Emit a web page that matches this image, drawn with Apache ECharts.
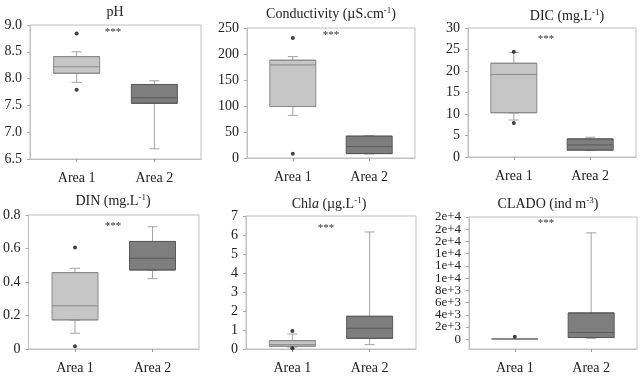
<!DOCTYPE html>
<html><head><meta charset="utf-8">
<script src="https://cdn.jsdelivr.net/npm/echarts@6/dist/echarts.min.js"></script>
<style>html,body{margin:0;padding:0;background:#fff}#c{width:640px;height:390px}</style>
</head><body><div id="c"></div><script>
// ---- data ----
const categories = ['Area 1', 'Area 2'];
// box: [min whisker, Q1, median, Q3, max whisker] for Area 1, Area 2
const phBox = [[7.93, 8.10, 8.22, 8.41, 8.50], [6.69, 7.54, 7.64, 7.89, 7.96]];
const phOut = [[1, 8.84], [1, 7.79]];
const condBox = [[82, 99, 179, 188, 195], [8, 8.5, 22, 42, 43]];
const condOut = [[1, 231], [1, 8.3]];
const dicBox = [[8.6, 10.3, 19.2, 21.8, 24.3], [1.5, 1.6, 2.8, 4.2, 4.6]];
const dicOut = [[1, 24.5], [1, 7.9]];
const dinBox = [[0.094, 0.174, 0.258, 0.456, 0.482], [0.42, 0.472, 0.542, 0.642, 0.73]];
const dinOut = [[1, 0.606], [1, 0.016]];
const chlBox = [[0.1, 0.14, 0.23, 0.44, 0.79], [0.23, 0.56, 1.09, 1.72, 6.16]];
const chlOut = [[1, 0.95], [1, 0.04]];
const cladoBox = [[0, 10, 50, 90, 100], [150, 275, 1100, 4300, 17400]];
const cladoOut = [[1, 385]];
// tick values (listed out of order so neighbouring end labels are not treated as overlapping)
const cladoTicks = [0, 10000, 2000, 4000, 6000, 8000, 12000, 16000, 18000, 20000, 14000];

// ---- layout / style ----
const serif = "'Liberation Serif', 'Times New Roman', serif";
const grids = [
  {left: 30, top: 25, width: 171, height: 134},
  {left: 247, top: 28, width: 168, height: 130},
  {left: 468, top: 28, width: 168, height: 129},
  {left: 27, top: 215, width: 172, height: 134},
  {left: 246, top: 216, width: 170, height: 133},
  {left: 469, top: 217, width: 168, height: 132}
];
const titleText = [
  'pH',
  'Conductivity (µS.cm{sup|-1})',
  'DIC (mg.L{sup|-1})',
  'DIN (mg.L{sup|-1})',
  'Chl{it|a} (µg.L{sup|-1})',
  'CLADO (ind m{sup|-3})'
];
const titlePos = [[115, 4], [331, 6], [567, 8], [113, 193], [329, 196], [548, 196]];
const starPos = [[113, 32], [331, 35], [546, 39], [113, 226], [326, 228], [546, 223]];
const boxes = [phBox, condBox, dicBox, dinBox, chlBox, cladoBox];
const outs = [phOut, condOut, dicOut, dinOut, chlOut, cladoOut];
const yCfg = [
  {min: 6.5, max: 9, interval: 0.5, fmt: v => v.toFixed(1)},
  {min: 0, max: 250, interval: 50, fmt: v => String(v)},
  {min: 0, max: 30, interval: 5, fmt: v => String(v)},
  {min: 0, max: 0.8, interval: 0.2, fmt: v => v === 0 ? '0' : v.toFixed(1)},
  {min: 0, max: 7, interval: 1, fmt: v => String(v)},
  {min: -1600, max: 20000, custom: cladoTicks, fmt: v => Math.abs(v) < 1e-9 ? '0' : v.toExponential(0), size: 13, lh: 12}
];
const fills = ['#c6c6c6', '#7e7e7e'];
const borders = ['#8a8a8a', '#5a5a5a'];
const whisker = '#a3a3a3';
const frame = '#c0c0c0';

const visibleX = grids.map((g, i) => ({
  type: 'value', gridIndex: i, min: 0.4, max: 2.6,
  splitLine: {show: false},
  axisLine: {show: true, onZero: false, lineStyle: {color: frame}},
  axisTick: {show: true, length: 3, customValues: [1, 2], lineStyle: {color: '#999'}},
  axisLabel: {customValues: [1, 2], formatter: v => categories[Math.round(v) - 1],
    fontFamily: serif, fontSize: 14, color: '#222', margin: 12}
}));
// hidden twin x axes so the whisker series is laid out independently of the box series
const hiddenX = grids.map((g, i) => ({
  type: 'value', gridIndex: i, min: 0.4, max: 2.6, show: false,
  splitLine: {show: false}, axisLine: {show: false}, axisTick: {show: false}, axisLabel: {show: false}
}));

const option = {
  backgroundColor: '#fff',
  animation: false,
  title: titleText.map((t, i) => ({
    text: t, left: titlePos[i][0], top: titlePos[i][1], textAlign: 'center', padding: 0,
    textStyle: {
      fontFamily: serif, fontSize: 14, fontWeight: 'normal', color: '#222', lineHeight: 17,
      rich: {
        sup: {fontFamily: serif, fontSize: 9, verticalAlign: 'top', lineHeight: 9, color: '#222'},
        it: {fontFamily: serif, fontSize: 14, fontStyle: 'italic', color: '#222'}
      }
    }
  })),
  grid: grids.map(g => Object.assign({show: true, borderColor: frame, borderWidth: 1, backgroundColor: '#fff'}, g)),
  xAxis: visibleX.concat(hiddenX),
  yAxis: yCfg.map((c, i) => {
    const ax = {
      type: 'value', gridIndex: i, min: c.min, max: c.max,
      splitLine: {show: false},
      axisLine: {show: true, onZero: false, lineStyle: {color: frame}},
      axisTick: {show: true, length: 3, lineStyle: {color: '#aaa'}},
      axisLabel: {formatter: c.fmt, fontFamily: serif, fontSize: c.size || 14, color: '#222', margin: 8,
        lineHeight: c.lh || 12, showMinLabel: true, showMaxLabel: true, hideOverlap: false}
    };
    if (c.custom) { ax.axisLabel.customValues = c.custom; ax.axisTick.customValues = c.custom; }
    else ax.interval = c.interval;
    return ax;
  }),
  graphic: starPos.map(p => ({
    type: 'text', x: p[0], y: p[1],
    style: {text: '***', fontFamily: serif, fontSize: 11, fill: '#333', align: 'center', verticalAlign: 'middle'}
  })),
  series: []
};
boxes.forEach((b, i) => {
  // whiskers with short caps (narrow boxplot, box collapsed at Q1)
  option.series.push({
    type: 'boxplot', xAxisIndex: i + grids.length, yAxisIndex: i, boxWidth: [10, 10],
    itemStyle: {color: 'rgba(0,0,0,0)', borderColor: whisker, borderWidth: 1},
    data: b.map((v, k) => [k + 1, v[0], v[1], v[1], v[1], v[4]])
  });
  // boxes (Q1..Q3 with median), drawn over the whisker line
  option.series.push({
    type: 'boxplot', xAxisIndex: i, yAxisIndex: i, boxWidth: [46, 46],
    data: b.map((v, k) => ({value: [k + 1, v[1], v[1], v[2], v[3], v[3]],
      itemStyle: {color: fills[k], borderColor: borders[k], borderWidth: 1}}))
  });
  option.series.push({
    type: 'scatter', xAxisIndex: i, yAxisIndex: i, symbolSize: 4,
    itemStyle: {color: '#111'}, data: outs[i]
  });
});
const chart = echarts.init(document.getElementById('c'), null, {renderer: 'canvas'});
chart.setOption(option);
</script></body></html>
